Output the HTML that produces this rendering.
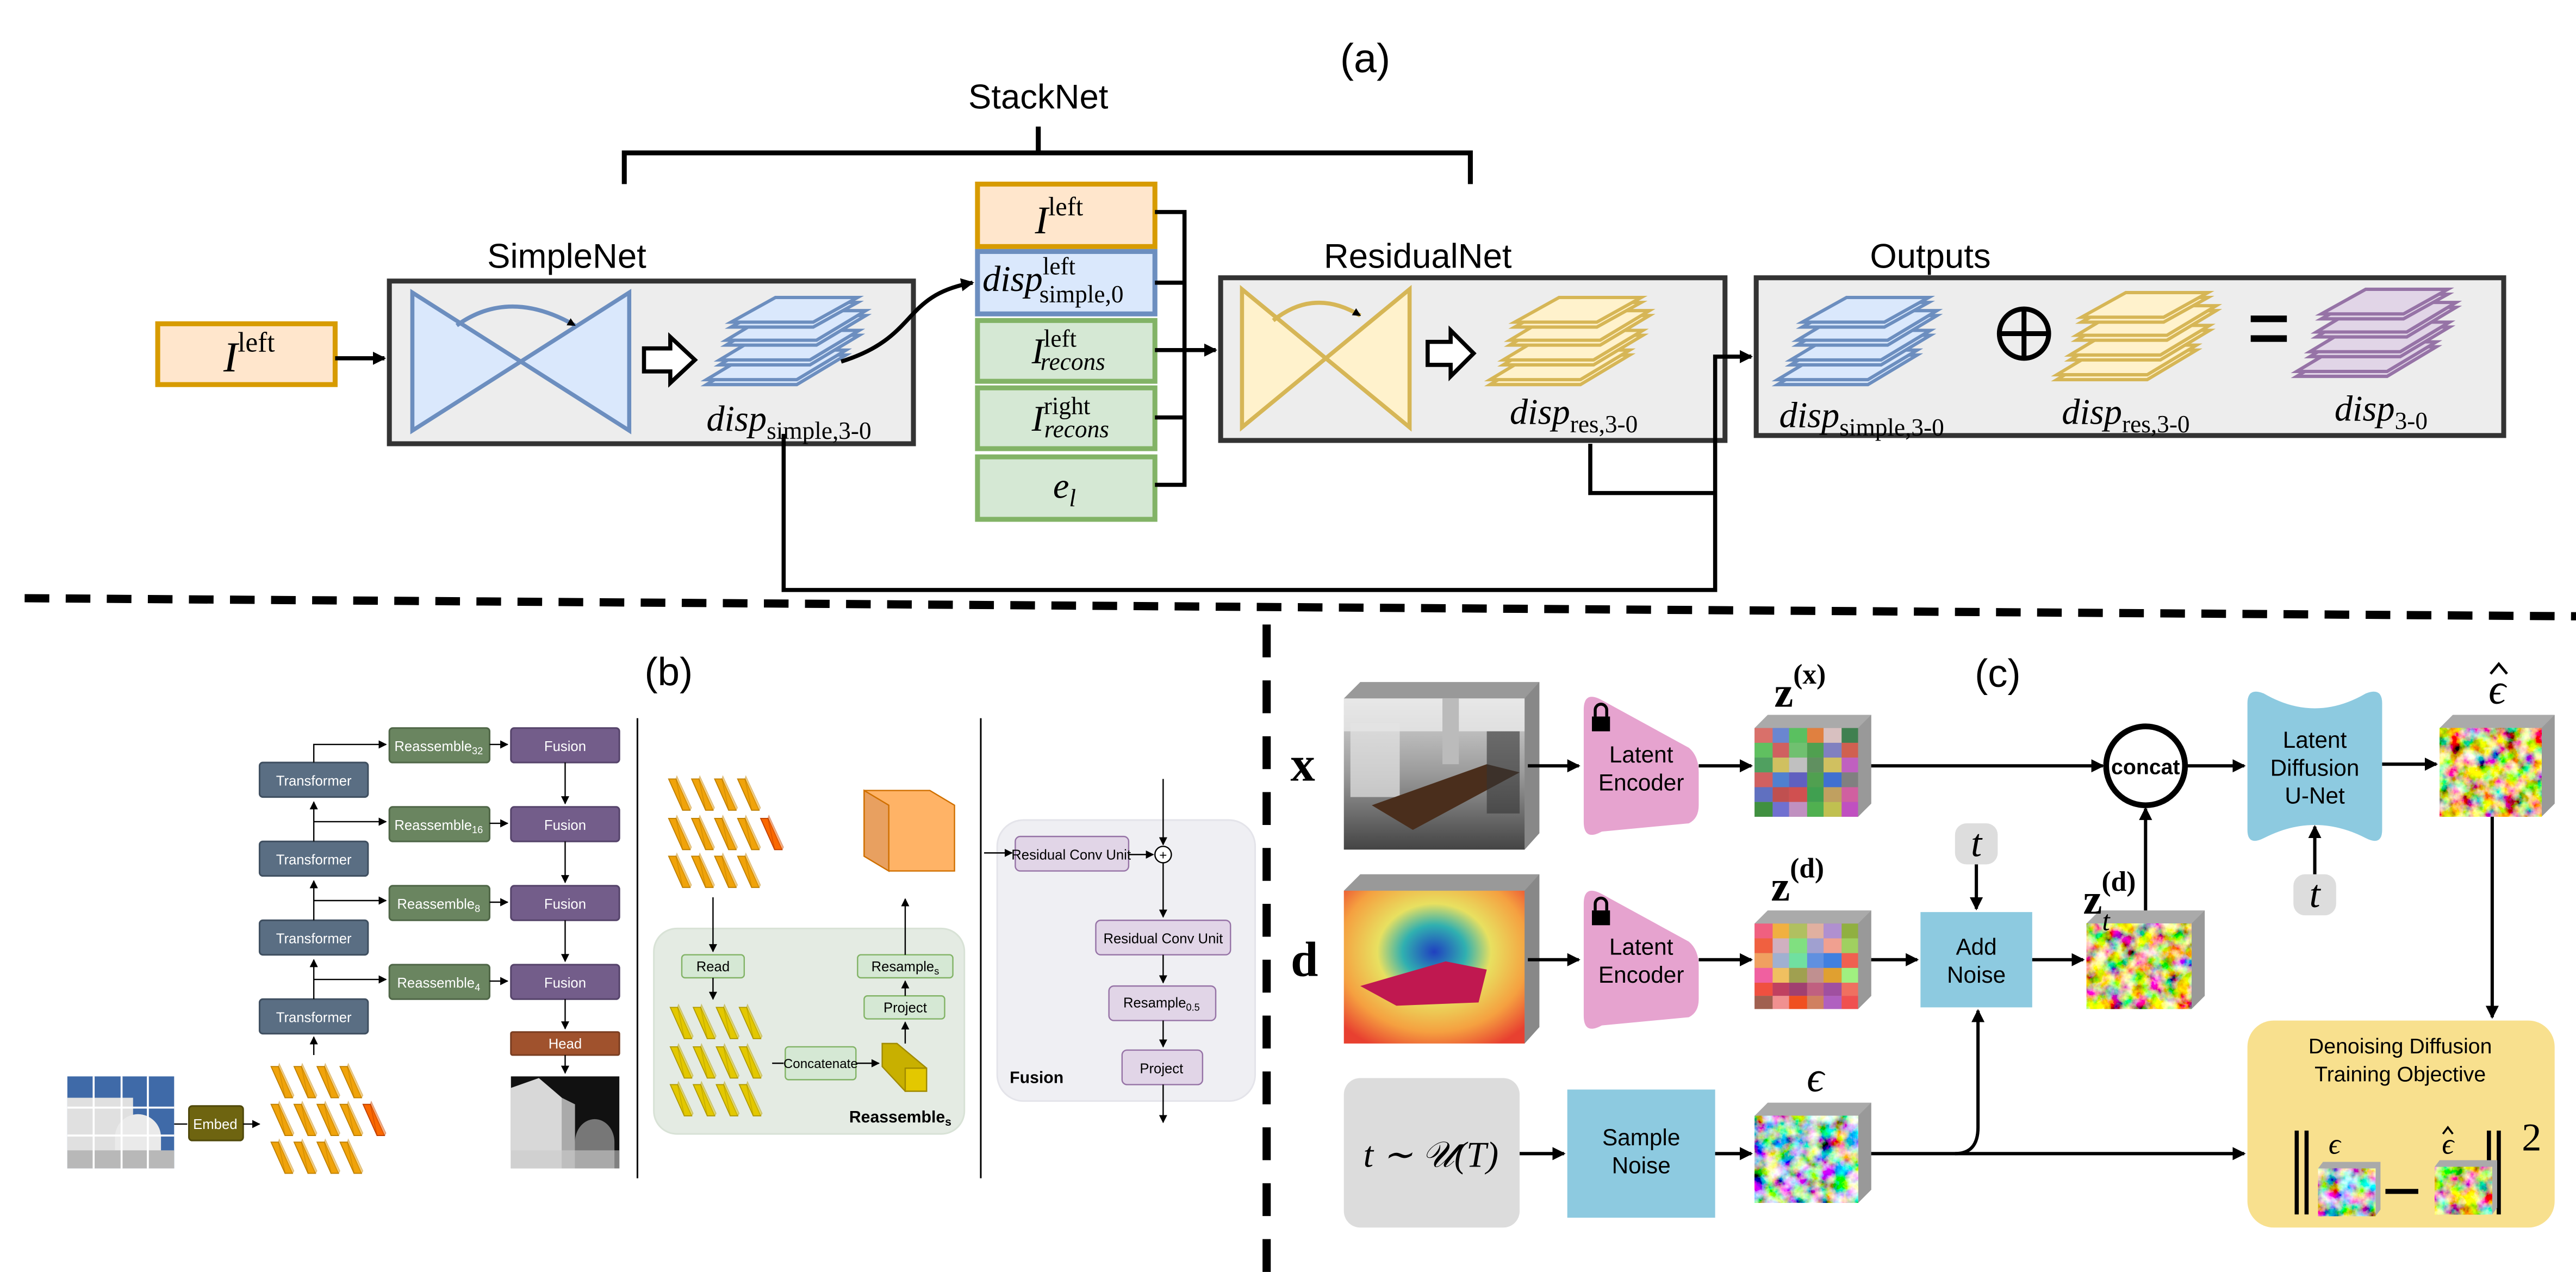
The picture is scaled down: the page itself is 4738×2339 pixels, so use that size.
<!DOCTYPE html>
<html><head><meta charset="utf-8"><style>
html,body{margin:0;padding:0;background:#fff;}
svg{display:block;}
.s{font-family:"Liberation Sans",sans-serif;}
.r{font-family:"Liberation Serif",serif;}
</style></head><body>
<svg width="4738" height="2339" viewBox="0 0 1568 774" xmlns="http://www.w3.org/2000/svg">
<defs>
<marker id="ah" markerWidth="8" markerHeight="8" refX="7" refY="4" orient="auto" markerUnits="userSpaceOnUse"><path d="M0,0L8,4L0,8z" fill="#000"/></marker>
<marker id="as" markerWidth="5" markerHeight="5" refX="4.5" refY="2.5" orient="auto" markerUnits="userSpaceOnUse"><path d="M0,0L5,2.5L0,5z" fill="#000"/></marker>
<g id="stk">
<path d="M0,53L55,53L85,35L30,35z"/><path d="M0,50L55,50L85,32L30,32z"/>
<path d="M8,41L63,41L93,23L38,23z"/><path d="M8,38L63,38L93,20L38,20z"/>
<path d="M12,29L67,29L97,11L42,11z"/><path d="M12,26L67,26L97,8L42,8z"/>
<path d="M15,18L65,18L92,3L42,3z"/><path d="M15,15L65,15L92,0L42,0z"/>
</g>
<g id="tok"><path d="M0,0L4.5,0L13,19L8.5,19z"/><path d="M8.5,19L13,19L13.8,17.5L5,-1.5L4.5,0z" opacity="0.5"/></g>
<filter id="nz1" x="0" y="0" width="100%" height="100%"><feTurbulence type="fractalNoise" baseFrequency="0.12" numOctaves="4" seed="3"/><feColorMatrix type="matrix" values="2.6 0 0 0 -0.85  0 2.6 0 0 -0.7  0 0 2.6 0 -0.75  0 0 0 0 1"/></filter>
<filter id="nz2" x="0" y="0" width="100%" height="100%"><feTurbulence type="fractalNoise" baseFrequency="0.12" numOctaves="4" seed="8"/><feColorMatrix type="matrix" values="2.8 0 0 0 -0.7  0 2.8 0 0 -0.8  0 0 2.0 0 -0.8  0 0 0 0 1"/></filter>
<linearGradient id="gx" x1="0" y1="0" x2="0" y2="1"><stop offset="0" stop-color="#d8d8d8"/><stop offset="0.5" stop-color="#9a9a9a"/><stop offset="1" stop-color="#444"/></linearGradient>
<radialGradient id="gd" cx="0.5" cy="0.4" r="0.7"><stop offset="0" stop-color="#2040c0"/><stop offset="0.25" stop-color="#30b0b0"/><stop offset="0.45" stop-color="#e8e060"/><stop offset="0.75" stop-color="#f5a040"/><stop offset="1" stop-color="#e84030"/></radialGradient>
<linearGradient id="gdp" x1="0" y1="0" x2="0" y2="1"><stop offset="0" stop-color="#555"/><stop offset="1" stop-color="#eee"/></linearGradient>
</defs>

<!-- (a) -->
<text x="831" y="44" class="s" font-size="25" text-anchor="middle">(a)</text>
<text x="632" y="66" class="s" font-size="21" text-anchor="middle">StackNet</text>
<path d="M380,112V93H895V112M632,93V77" fill="none" stroke="#000" stroke-width="3"/>

<rect x="96" y="197" width="108" height="37" fill="#ffe6cc" stroke="#d79b00" stroke-width="3"/>
<text x="136" y="226" class="r" font-size="26" font-style="italic">I<tspan font-size="17" font-style="normal" dy="-12">left</tspan></text>
<path d="M204,218H234" stroke="#000" stroke-width="2.5" marker-end="url(#ah)"/>

<text x="345" y="163" class="s" font-size="21" text-anchor="middle">SimpleNet</text>
<rect x="237" y="171" width="319" height="99" fill="#ededed" stroke="#333" stroke-width="3"/>
<path d="M251,178L383,262V178L251,262z" fill="#dae8fc" stroke="#6c8ebf" stroke-width="2.5"/>
<path d="M278,198Q310,175 350,198" fill="none" stroke="#6c8ebf" stroke-width="2.5" marker-end="url(#as)"/>
<path d="M392,212H408V205L423,219L408,233V226H392z" fill="#fff" stroke="#000" stroke-width="2.5"/>
<use href="#stk" x="430" y="181" fill="#dae8fc" stroke="#6c8ebf" stroke-width="2"/>
<text x="430" y="262" class="r" font-size="22" font-style="italic">disp<tspan font-size="15" font-style="normal" dy="5">simple,3-0</tspan></text>
<path d="M512,220C560,205 548,180 592,172" fill="none" stroke="#000" stroke-width="2.5" marker-end="url(#ah)"/>

<rect x="595" y="112" width="108" height="38" fill="#ffe6cc" stroke="#d79b00" stroke-width="3"/>
<text x="630" y="142" class="r" font-size="24" font-style="italic">I<tspan font-size="16" font-style="normal" dy="-11">left</tspan></text>
<rect x="595" y="153" width="108" height="38" fill="#dae8fc" stroke="#6c8ebf" stroke-width="3"/>
<text x="598" y="177" class="r" font-size="22" font-style="italic">disp<tspan font-size="15" font-style="normal" dy="-10">left</tspan><tspan font-size="15" font-style="normal" dx="-22" dy="17">simple,0</tspan></text>
<rect x="595" y="195" width="108" height="37" fill="#d5e8d4" stroke="#82b366" stroke-width="3"/>
<text x="628" y="221" class="r" font-size="22" font-style="italic">I<tspan font-size="15" font-style="normal" dy="-10">left</tspan><tspan font-size="15" dx="-22" dy="14">recons</tspan></text>
<rect x="595" y="236" width="108" height="37" fill="#d5e8d4" stroke="#82b366" stroke-width="3"/>
<text x="628" y="262" class="r" font-size="22" font-style="italic">I<tspan font-size="15" font-style="normal" dy="-10">right</tspan><tspan font-size="15" dx="-28" dy="14">recons</tspan></text>
<rect x="595" y="278" width="108" height="38" fill="#d5e8d4" stroke="#82b366" stroke-width="3"/>
<text x="641" y="303" class="r" font-size="22" font-style="italic">e<tspan font-size="15" dy="5">l</tspan></text>
<path d="M703,129H721V295H703M703,172H721M703,254H721" fill="none" stroke="#000" stroke-width="2.5"/>
<path d="M703,213H740" stroke="#000" stroke-width="2.5" marker-end="url(#ah)"/>

<text x="863" y="163" class="s" font-size="21" text-anchor="middle">ResidualNet</text>
<rect x="743" y="169" width="307" height="99" fill="#ededed" stroke="#333" stroke-width="3"/>
<path d="M756,176L858,260V176L756,260z" fill="#fff2cc" stroke="#d6b656" stroke-width="2.5"/>
<path d="M775,195Q800,175 828,192" fill="none" stroke="#d6b656" stroke-width="2.5" marker-end="url(#as)"/>
<path d="M869,208H883V201L897,215L883,229V222H869z" fill="#fff" stroke="#000" stroke-width="2.5"/>
<use href="#stk" x="907" y="181" fill="#fff2cc" stroke="#d6b656" stroke-width="2"/>
<text x="919" y="258" class="r" font-size="22" font-style="italic">disp<tspan font-size="15" font-style="normal" dy="5">res,3-0</tspan></text>

<text x="1175" y="163" class="s" font-size="21" text-anchor="middle">Outputs</text>
<rect x="1069" y="169" width="455" height="96" fill="#ededed" stroke="#333" stroke-width="3"/>
<use href="#stk" x="1082" y="181" fill="#dae8fc" stroke="#6c8ebf" stroke-width="2"/>
<circle cx="1232" cy="203" r="15" fill="none" stroke="#000" stroke-width="3"/>
<path d="M1217,203H1247M1232,188V218" stroke="#000" stroke-width="3"/>
<use href="#stk" x="1252" y="178" fill="#fff2cc" stroke="#d6b656" stroke-width="2"/>
<path d="M1370,194H1392M1370,206H1392" stroke="#000" stroke-width="4"/>
<use href="#stk" x="1398" y="176" fill="#e1d5e7" stroke="#9673a6" stroke-width="2"/>
<text x="1083" y="260" class="r" font-size="22" font-style="italic">disp<tspan font-size="15" font-style="normal" dy="5">simple,3-0</tspan></text>
<text x="1255" y="258" class="r" font-size="22" font-style="italic">disp<tspan font-size="15" font-style="normal" dy="5">res,3-0</tspan></text>
<text x="1421" y="256" class="r" font-size="22" font-style="italic">disp<tspan font-size="15" font-style="normal" dy="5">3-0</tspan></text>

<path d="M968,270V300H1044" fill="none" stroke="#000" stroke-width="2.5"/>
<path d="M477,264V359H1044V217H1066" fill="none" stroke="#000" stroke-width="2.5" marker-end="url(#ah)"/>

<!-- dashed dividers -->
<path d="M15,364L1568,375" stroke="#000" stroke-width="5" stroke-dasharray="15,10"/>
<path d="M771,380V774" stroke="#000" stroke-width="5" stroke-dasharray="20,14"/>

<!-- (b) -->
<text x="407" y="417" class="s" font-size="24" text-anchor="middle">(b)</text>
<path d="M388,437V717M597,437V717" stroke="#000" stroke-width="1"/>
<g class="s" font-size="8.5" fill="#fff" text-anchor="middle">
<g fill="#5a6e83" stroke="#3f4f60" stroke-width="1">
<rect x="158" y="464" width="66" height="21" rx="2"/><rect x="158" y="512" width="66" height="21" rx="2"/><rect x="158" y="560" width="66" height="21" rx="2"/><rect x="158" y="608" width="66" height="21" rx="2"/></g>
<text x="191" y="478">Transformer</text><text x="191" y="526">Transformer</text><text x="191" y="574">Transformer</text><text x="191" y="622">Transformer</text>
<g fill="#6a8560" stroke="#4f6647" stroke-width="1">
<rect x="237" y="443" width="61" height="21" rx="2"/><rect x="237" y="491" width="61" height="21" rx="2"/><rect x="237" y="539" width="61" height="21" rx="2"/><rect x="237" y="587" width="61" height="21" rx="2"/></g>
<text x="267" y="457">Reassemble<tspan font-size="6" dy="2">32</tspan></text><text x="267" y="505">Reassemble<tspan font-size="6" dy="2">16</tspan></text><text x="267" y="553">Reassemble<tspan font-size="6" dy="2">8</tspan></text><text x="267" y="601">Reassemble<tspan font-size="6" dy="2">4</tspan></text>
<g fill="#735d8a" stroke="#55436a" stroke-width="1">
<rect x="311" y="443" width="66" height="21" rx="2"/><rect x="311" y="491" width="66" height="21" rx="2"/><rect x="311" y="539" width="66" height="21" rx="2"/><rect x="311" y="587" width="66" height="21" rx="2"/></g>
<text x="344" y="457">Fusion</text><text x="344" y="505">Fusion</text><text x="344" y="553">Fusion</text><text x="344" y="601">Fusion</text>
<rect x="311" y="628" width="66" height="14" rx="1" fill="#a0522d" stroke="#7a3d20"/>
<text x="344" y="638">Head</text>
<rect x="115" y="673" width="33" height="21" rx="2" fill="#6e6410" stroke="#4f480a"/>
<text x="131" y="687">Embed</text>
</g>
<g fill="none" stroke="#000" stroke-width="0.8">
<path d="M191,642V631" marker-end="url(#as)"/><path d="M191,608V584" marker-end="url(#as)"/><path d="M191,560V536" marker-end="url(#as)"/><path d="M191,512V488" marker-end="url(#as)"/>
<path d="M191,464V453H235" marker-end="url(#as)"/><path d="M191,500H235" marker-end="url(#as)"/><path d="M191,548H235" marker-end="url(#as)"/><path d="M191,596H235" marker-end="url(#as)"/>
<path d="M298,453H309" marker-end="url(#as)"/><path d="M298,501H309" marker-end="url(#as)"/><path d="M298,549H309" marker-end="url(#as)"/><path d="M298,597H309" marker-end="url(#as)"/>
<path d="M344,464V489" marker-end="url(#as)"/><path d="M344,512V537" marker-end="url(#as)"/><path d="M344,560V585" marker-end="url(#as)"/><path d="M344,608V626" marker-end="url(#as)"/><path d="M344,642V653" marker-end="url(#as)"/>
<path d="M106,684H114"/><path d="M148,684H158" marker-end="url(#as)"/>
</g>
<!-- input image -->
<rect x="41" y="655" width="65" height="56" fill="#3f6aa8"/>
<rect x="41" y="668" width="40" height="43" fill="#e0e0e0"/><path d="M70,692a14,14 0 0 1 28,0v19h-28z" fill="#eaeaea"/><rect x="41" y="700" width="65" height="11" fill="#b8b8b8"/>
<path d="M41,674H106M41,691H106M57,655V711M74,655V711M90,655V711" stroke="#fff" stroke-width="1.2"/>
<rect x="311" y="655" width="66" height="56" fill="#111"/><path d="M311,711V662L328,656L342,668V711z" fill="#d8d8d8"/><path d="M342,711V668L350,672V711z" fill="#aaa"/><path d="M350,711V695a12,14 0 0 1 24,0V711z" fill="#777"/><rect x="311" y="700" width="66" height="11" fill="#ccc" opacity="0.6"/>
<!-- tokens -->
<g fill="#f0a30a" stroke="#c08000" stroke-width="0.6">
<use href="#tok" x="165" y="649"/><use href="#tok" x="179" y="649"/><use href="#tok" x="193" y="649"/><use href="#tok" x="207" y="649"/>
<use href="#tok" x="165" y="672"/><use href="#tok" x="179" y="672"/><use href="#tok" x="193" y="672"/><use href="#tok" x="207" y="672"/>
<use href="#tok" x="165" y="695"/><use href="#tok" x="179" y="695"/><use href="#tok" x="193" y="695"/><use href="#tok" x="207" y="695"/>
<use href="#tok" x="407" y="474"/><use href="#tok" x="421" y="474"/><use href="#tok" x="435" y="474"/><use href="#tok" x="449" y="474"/>
<use href="#tok" x="407" y="498"/><use href="#tok" x="421" y="498"/><use href="#tok" x="435" y="498"/><use href="#tok" x="449" y="498"/>
<use href="#tok" x="407" y="521"/><use href="#tok" x="421" y="521"/><use href="#tok" x="435" y="521"/><use href="#tok" x="449" y="521"/>
</g>
<g fill="#fa6800" stroke="#c04000" stroke-width="0.6"><use href="#tok" x="221" y="672"/><use href="#tok" x="463" y="498"/></g>
<!-- middle panel -->
<rect x="398" y="565" width="189" height="125" rx="14" fill="#e4ebe3" stroke="#d8e2d6"/>
<g fill="#e3c800" stroke="#b09a00" stroke-width="0.6">
<use href="#tok" x="408" y="613"/><use href="#tok" x="422" y="613"/><use href="#tok" x="436" y="613"/><use href="#tok" x="450" y="613"/>
<use href="#tok" x="408" y="637"/><use href="#tok" x="422" y="637"/><use href="#tok" x="436" y="637"/><use href="#tok" x="450" y="637"/>
<use href="#tok" x="408" y="660"/><use href="#tok" x="422" y="660"/><use href="#tok" x="436" y="660"/><use href="#tok" x="450" y="660"/>
</g>
<path d="M526,481H566L581,490V530H541L526,521z" fill="#ffb366" stroke="#d07000" stroke-width="0.8"/>
<path d="M526,481L541,490V530L526,521z" fill="#e8a060" stroke="#d07000" stroke-width="0.8"/>
<path d="M537,635H546L564,650V664H551L537,649z" fill="#c8b000" stroke="#a08a00" stroke-width="0.8"/><rect x="551" y="650" width="13" height="14" fill="#e3c800" stroke="#a08a00" stroke-width="0.8"/>
<g class="s" font-size="8.5" text-anchor="middle" fill="#000">
<g fill="#d5e8d4" stroke="#82b366" stroke-width="0.8">
<rect x="415" y="581" width="38" height="14" rx="2"/><rect x="522" y="581" width="58" height="14" rx="2"/><rect x="526" y="606" width="49" height="14" rx="2"/><rect x="478" y="637" width="43" height="20" rx="2"/></g>
<text x="434" y="591">Read</text><text x="551" y="591">Resample<tspan font-size="6" dy="2">s</tspan></text><text x="551" y="616">Project</text><text x="499.5" y="650" font-size="8">Concatenate</text>
<text x="548" y="683" font-weight="bold" font-size="10">Reassemble<tspan font-size="7" dy="2">s</tspan></text>
</g>
<g fill="none" stroke="#000" stroke-width="0.8">
<path d="M434,546V579" marker-end="url(#as)"/><path d="M434,595V608" marker-end="url(#as)"/><path d="M470,647H477"/><path d="M521,647H535" marker-end="url(#as)"/>
<path d="M551,635V622" marker-end="url(#as)"/><path d="M551,606V597" marker-end="url(#as)"/><path d="M551,581V547" marker-end="url(#as)"/>
</g>
<!-- fusion panel -->
<rect x="607" y="499" width="157" height="171" rx="16" fill="#efeff3" stroke="#e4e4ea"/>
<g class="s" font-size="8.5" text-anchor="middle" fill="#000">
<g fill="#e1d5e7" stroke="#9673a6" stroke-width="0.8">
<rect x="618" y="509" width="69" height="21" rx="3"/><rect x="667" y="560" width="82" height="21" rx="3"/><rect x="675" y="600" width="65" height="21" rx="3"/><rect x="683" y="639" width="49" height="21" rx="3"/></g>
<text x="652" y="523">Residual Conv Unit</text><text x="708" y="574">Residual Conv Unit</text><text x="707" y="613">Resample<tspan font-size="6" dy="2">0.5</tspan></text><text x="707" y="653">Project</text>
<text x="631" y="659" font-weight="bold" font-size="10" text-anchor="middle">Fusion</text>
</g>
<circle cx="708" cy="520" r="5" fill="#fff" stroke="#000" stroke-width="0.8"/><text x="708" y="523" class="s" font-size="8" text-anchor="middle">+</text>
<g fill="none" stroke="#000" stroke-width="0.8">
<path d="M708,474V514" marker-end="url(#as)"/><path d="M599,519H616" marker-end="url(#as)"/><path d="M687,520H702" marker-end="url(#as)"/>
<path d="M708,525V558" marker-end="url(#as)"/><path d="M708,581V598" marker-end="url(#as)"/><path d="M708,621V637" marker-end="url(#as)"/><path d="M708,660V683" marker-end="url(#as)"/>
</g>

<!-- (c) -->
<text x="1216" y="418" class="s" font-size="24" text-anchor="middle">(c)</text>
<text x="793" y="475" class="r" font-size="30" font-weight="bold" text-anchor="middle">x</text>
<text x="794" y="594" class="r" font-size="30" font-weight="bold" text-anchor="middle">d</text>
<!-- x image -->
<path d="M818,425L828,415H937V507L928,517z" fill="#999"/><path d="M928,425L937,415V507L928,517z" fill="#888"/>
<rect x="818" y="425" width="110" height="92" fill="url(#gx)"/>
<rect x="818" y="425" width="110" height="20" fill="#eee" opacity="0.7"/><rect x="822" y="440" width="30" height="45" fill="#e4e4e4" opacity="0.7"/>
<path d="M835,490L905,465L925,470L860,505z" fill="#4a2e1c"/><rect x="878" y="425" width="10" height="40" fill="#bbb"/><rect x="905" y="445" width="20" height="50" fill="#333" opacity="0.6"/>
<!-- d image -->
<path d="M818,542L828,532H937V625L928,635z" fill="#999"/><path d="M928,542L937,532V625L928,635z" fill="#888"/>
<rect x="818" y="542" width="110" height="93" fill="url(#gd)"/>
<path d="M828,600L880,585L905,590L900,610L850,612z" fill="#c01850"/>
<!-- encoders -->
<path d="M964,432Q964,420 975,426L1028,455Q1034,460 1034,470V490Q1034,498 1028,501L975,506Q964,512 964,500z" fill="#e6a3cf"/>
<path d="M964,550Q964,538 975,544L1028,573Q1034,578 1034,588V608Q1034,616 1028,619L975,624Q964,630 964,618z" fill="#e6a3cf"/>
<g fill="#000"><rect x="969" y="436" width="11" height="9"/><path d="M971,436v-4a3.5,3.5 0 0 1 7,0v4" fill="none" stroke="#000" stroke-width="1.8"/>
<rect x="969" y="554" width="11" height="9"/><path d="M971,554v-4a3.5,3.5 0 0 1 7,0v4" fill="none" stroke="#000" stroke-width="1.8"/></g>
<g class="s" font-size="14" text-anchor="middle"><text x="999" y="464">Latent</text><text x="999" y="481">Encoder</text><text x="999" y="581">Latent</text><text x="999" y="598">Encoder</text></g>
<!-- z(x) cube -->
<path d="M1068,443L1076,435H1139V489L1131,497z" fill="#aaa"/><path d="M1131,443L1139,435V489L1131,497z" fill="#999"/>
<g>
<rect x="1068" y="443" width="63" height="54" fill="#9a9090"/>
<rect x="1068" y="443" width="11" height="9" fill="#d9706a"/><rect x="1079" y="443" width="10" height="9" fill="#6a86d0"/><rect x="1089" y="443" width="11" height="9" fill="#5ac060"/><rect x="1100" y="443" width="10" height="9" fill="#e08040"/><rect x="1110" y="443" width="11" height="9" fill="#d8c0c0"/><rect x="1121" y="443" width="10" height="9" fill="#408050"/>
<rect x="1068" y="452" width="11" height="9" fill="#60c060"/><rect x="1079" y="452" width="10" height="9" fill="#d06060"/><rect x="1089" y="452" width="11" height="9" fill="#70c070"/><rect x="1100" y="452" width="10" height="9" fill="#50a050"/><rect x="1110" y="452" width="11" height="9" fill="#8080c0"/><rect x="1121" y="452" width="10" height="9" fill="#d06050"/>
<rect x="1068" y="461" width="11" height="9" fill="#50a060"/><rect x="1079" y="461" width="10" height="9" fill="#d0c060"/><rect x="1089" y="461" width="11" height="9" fill="#c0c0c0"/><rect x="1100" y="461" width="10" height="9" fill="#609060"/><rect x="1110" y="461" width="11" height="9" fill="#d0c060"/><rect x="1121" y="461" width="10" height="9" fill="#c060c0"/>
<rect x="1068" y="470" width="11" height="9" fill="#d06060"/><rect x="1079" y="470" width="10" height="9" fill="#5080d0"/><rect x="1089" y="470" width="11" height="9" fill="#6060c0"/><rect x="1100" y="470" width="10" height="9" fill="#50a050"/><rect x="1110" y="470" width="11" height="9" fill="#4070d0"/><rect x="1121" y="470" width="10" height="9" fill="#808080"/>
<rect x="1068" y="479" width="11" height="9" fill="#6070c0"/><rect x="1079" y="479" width="10" height="9" fill="#c05050"/><rect x="1089" y="479" width="11" height="9" fill="#d05050"/><rect x="1100" y="479" width="10" height="9" fill="#40a050"/><rect x="1110" y="479" width="11" height="9" fill="#c0a060"/><rect x="1121" y="479" width="10" height="9" fill="#d060a0"/>
<rect x="1068" y="488" width="11" height="9" fill="#409040"/><rect x="1079" y="488" width="10" height="9" fill="#7070d0"/><rect x="1089" y="488" width="11" height="9" fill="#c090c0"/><rect x="1100" y="488" width="10" height="9" fill="#50b050"/><rect x="1110" y="488" width="11" height="9" fill="#c0c050"/><rect x="1121" y="488" width="10" height="9" fill="#c050c0"/>
</g>
<text x="1080" y="430" class="r" font-size="26" font-weight="bold">z<tspan font-size="17" dy="-14">(x)</tspan></text>
<!-- z(d) cube -->
<path d="M1068,562L1076,554H1139V606L1131,614z" fill="#aaa"/><path d="M1131,562L1139,554V606L1131,614z" fill="#999"/>
<g>
<rect x="1068" y="562" width="63" height="52" fill="#c09090"/>
<rect x="1068" y="562" width="11" height="9" fill="#f06080"/><rect x="1079" y="562" width="10" height="9" fill="#f0b040"/><rect x="1089" y="562" width="11" height="9" fill="#b0c060"/><rect x="1100" y="562" width="10" height="9" fill="#e0b0a0"/><rect x="1110" y="562" width="11" height="9" fill="#b090d0"/><rect x="1121" y="562" width="10" height="9" fill="#90b040"/>
<rect x="1068" y="571" width="11" height="9" fill="#f06040"/><rect x="1079" y="571" width="10" height="9" fill="#d0b0c0"/><rect x="1089" y="571" width="11" height="9" fill="#80e080"/><rect x="1100" y="571" width="10" height="9" fill="#a0a0d0"/><rect x="1110" y="571" width="11" height="9" fill="#f0a090"/><rect x="1121" y="571" width="10" height="9" fill="#a0d060"/>
<rect x="1068" y="580" width="11" height="9" fill="#f0a060"/><rect x="1079" y="580" width="10" height="9" fill="#a0b0d0"/><rect x="1089" y="580" width="11" height="9" fill="#70e0a0"/><rect x="1100" y="580" width="10" height="9" fill="#6090e0"/><rect x="1110" y="580" width="11" height="9" fill="#4080e0"/><rect x="1121" y="580" width="10" height="9" fill="#f06050"/>
<rect x="1068" y="589" width="11" height="9" fill="#f060a0"/><rect x="1079" y="589" width="10" height="9" fill="#f0c060"/><rect x="1089" y="589" width="11" height="9" fill="#a0a050"/><rect x="1100" y="589" width="10" height="9" fill="#c09090"/><rect x="1110" y="589" width="11" height="9" fill="#e0a030"/><rect x="1121" y="589" width="10" height="9" fill="#a0f080"/>
<rect x="1068" y="598" width="11" height="8" fill="#f05040"/><rect x="1079" y="598" width="10" height="8" fill="#c04060"/><rect x="1089" y="598" width="11" height="8" fill="#a04070"/><rect x="1100" y="598" width="10" height="8" fill="#c06080"/><rect x="1110" y="598" width="11" height="8" fill="#a050a0"/><rect x="1121" y="598" width="10" height="8" fill="#f07060"/>
<rect x="1068" y="606" width="11" height="8" fill="#a06050"/><rect x="1079" y="606" width="10" height="8" fill="#f09090"/><rect x="1089" y="606" width="11" height="8" fill="#f05020"/><rect x="1100" y="606" width="10" height="8" fill="#d08060"/><rect x="1110" y="606" width="11" height="8" fill="#b060c0"/><rect x="1121" y="606" width="10" height="8" fill="#f05050"/>
</g>
<text x="1078" y="548" class="r" font-size="26" font-weight="bold">z<tspan font-size="17" dy="-14">(d)</tspan></text>
<!-- add noise, t -->
<rect x="1169" y="555" width="68" height="58" fill="#8dcae0"/>
<g class="s" font-size="14" text-anchor="middle"><text x="1203" y="581">Add</text><text x="1203" y="598">Noise</text></g>
<rect x="1190" y="501" width="26" height="25" rx="7" fill="#ddd"/><text x="1203" y="521" class="r" font-size="24" font-style="italic" text-anchor="middle">t</text>
<rect x="1396" y="532" width="26" height="25" rx="7" fill="#ddd"/><text x="1409" y="552" class="r" font-size="24" font-style="italic" text-anchor="middle">t</text>
<!-- z_t cube -->
<path d="M1270,562L1278,554H1342V606L1334,614z" fill="#aaa"/><path d="M1334,562L1342,554V606L1334,614z" fill="#999"/>
<rect x="1270" y="562" width="64" height="52" fill="#808080" filter="url(#nz2)"/>
<text x="1268" y="556" class="r" font-size="26" font-weight="bold">z<tspan font-size="17" font-weight="normal" font-style="italic" dy="10">t</tspan><tspan font-size="17" dx="-5" dy="-24">(d)</tspan></text>
<!-- concat -->
<circle cx="1306" cy="466" r="24" fill="#fff" stroke="#000" stroke-width="3.5"/>
<text x="1306" y="471" class="s" font-size="13" font-weight="bold" text-anchor="middle">concat</text>
<!-- U-net -->
<path d="M1368,428Q1368,418 1378,422Q1409,440 1440,422Q1450,418 1450,428V505Q1450,515 1440,510Q1409,494 1378,510Q1368,515 1368,505z" fill="#8dcae0"/>
<g class="s" font-size="14" text-anchor="middle"><text x="1409" y="455">Latent</text><text x="1409" y="472">Diffusion</text><text x="1409" y="489">U-Net</text></g>
<!-- eps hat cube -->
<path d="M1485,443L1493,435H1555V489L1547,497z" fill="#aaa"/><path d="M1547,443L1555,435V489L1547,497z" fill="#999"/>
<rect x="1485" y="443" width="62" height="54" fill="#808080" filter="url(#nz2)"/>
<text x="1520" y="428" class="r" font-size="26" text-anchor="middle" font-style="italic">ϵ</text>
<path d="M1516,410L1521,404L1526,410" fill="none" stroke="#000" stroke-width="1.6"/>
<!-- bottom row -->
<rect x="818" y="656" width="107" height="91" rx="10" fill="#dcdcdc"/>
<text x="871" y="710" class="r" font-size="22" font-style="italic" text-anchor="middle">t ∼ 𝒰(T)</text>
<rect x="954" y="663" width="90" height="78" fill="#8dcae0"/>
<g class="s" font-size="14" text-anchor="middle"><text x="999" y="697">Sample</text><text x="999" y="714">Noise</text></g>
<path d="M1068,679L1076,671H1139V724L1131,732z" fill="#aaa"/><path d="M1131,679L1139,671V724L1131,732z" fill="#999"/>
<rect x="1068" y="679" width="63" height="53" fill="#808080" filter="url(#nz1)"/>
<text x="1105" y="664" class="r" font-size="26" font-style="italic" text-anchor="middle">ϵ</text>
<!-- objective -->
<rect x="1368" y="621" width="187" height="126" rx="16" fill="#f8e08e"/>
<g class="s" font-size="13" text-anchor="middle"><text x="1461" y="641">Denoising Diffusion</text><text x="1461" y="658">Training Objective</text></g>
<path d="M1398,688V739M1404,688V739M1515,688V739M1521,688V739" stroke="#000" stroke-width="2.5"/>
<text x="1541" y="700" class="r" font-size="24" text-anchor="middle">2</text>
<text x="1421" y="702" class="r" font-size="18" font-style="italic" text-anchor="middle">ϵ</text>
<text x="1490" y="702" class="r" font-size="18" font-style="italic" text-anchor="middle">ϵ</text>
<path d="M1487,690L1490,686L1493,690" fill="none" stroke="#000" stroke-width="1.2"/>
<path d="M1411,711L1414,707H1449V736L1446,740z" fill="#aaa"/><rect x="1411" y="711" width="35" height="29" fill="#888" filter="url(#nz1)"/>
<path d="M1482,710L1485,706H1520V735L1517,739z" fill="#aaa"/><rect x="1482" y="710" width="35" height="29" fill="#888" filter="url(#nz2)"/>
<path d="M1452,725H1472" stroke="#000" stroke-width="3"/>
<!-- arrows (c) -->
<g fill="none" stroke="#000" stroke-width="2">
<path d="M930,466H961" marker-end="url(#ah)"/><path d="M1034,466H1066" marker-end="url(#ah)"/><path d="M1139,466H1280" marker-end="url(#ah)"/>
<path d="M1330,466H1366" marker-end="url(#ah)"/><path d="M1450,465H1483" marker-end="url(#ah)"/>
<path d="M930,584H961" marker-end="url(#ah)"/><path d="M1034,584H1066" marker-end="url(#ah)"/><path d="M1139,584H1167" marker-end="url(#ah)"/><path d="M1237,584H1268" marker-end="url(#ah)"/>
<path d="M1203,526V553" marker-end="url(#ah)"/><path d="M1306,554V492" marker-end="url(#ah)"/><path d="M1409,532V503" marker-end="url(#ah)"/>
<path d="M1517,497V619" marker-end="url(#ah)"/>
<path d="M925,702H952" marker-end="url(#ah)"/><path d="M1044,702H1066" marker-end="url(#ah)"/>
<path d="M1139,702H1366" marker-end="url(#ah)"/><path d="M1190,702Q1204,702 1204,686V615" marker-end="url(#ah)"/>
</g>
</svg>
</body></html>
